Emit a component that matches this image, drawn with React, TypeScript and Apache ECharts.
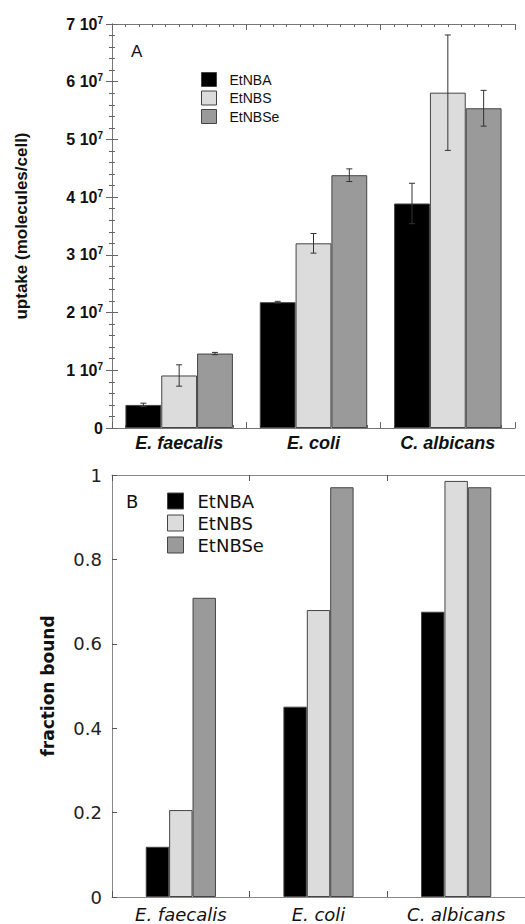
import React, { useEffect, useRef } from "react";
import * as echarts from "echarts";

const categories = ["E. faecalis", "E. coli", "C. albicans"];
const seriesNames = ["EtNBA", "EtNBS", "EtNBSe"];
const colors = ["#000000", "#dcdcdc", "#9a9a9a"];

// Panel A: uptake (molecules/cell)
const uptakeEtNBA = [4.0e6, 21.8e6, 38.9e6];
const uptakeEtNBS = [9.1e6, 32.0e6, 58.1e6];
const uptakeEtNBSe = [12.9e6, 43.8e6, 55.4e6];
const errEtNBA = [0.3e6, 0.15e6, 3.5e6];
const errEtNBS = [1.85e6, 1.7e6, 10.0e6];
const errEtNBSe = [0.2e6, 1.1e6, 3.1e6];

// Panel B: fraction bound
const boundEtNBA = [0.119, 0.451, 0.676];
const boundEtNBS = [0.206, 0.68, 0.986];
const boundEtNBSe = [0.709, 0.971, 0.971];

const uptakeTicks = [0, 1e7, 2e7, 3e7, 4e7, 5e7, 6e7, 7e7];

const FA = "'Liberation Sans', Arial, Helvetica, sans-serif";
const FB = "'DejaVu Sans', Verdana, sans-serif";

export default function App() {
  const ref = useRef<HTMLDivElement>(null);
  useEffect(() => {
    document.body.style.margin = "0";
    if (!ref.current) return;
    const chart = echarts.init(ref.current, undefined, { renderer: "svg" });
    const uptake = [uptakeEtNBA, uptakeEtNBS, uptakeEtNBSe];
    const errs = [errEtNBA, errEtNBS, errEtNBSe];
    const bound = [boundEtNBA, boundEtNBS, boundEtNBSe];

    const errData: any[] = [];
    for (let s = 0; s < 3; s++) {
      for (let c = 0; c < 3; c++) {
        errData.push([c, uptake[s][c], errs[s][c], s]);
      }
    }

    const lineA = { show: true, lineStyle: { color: "#777", width: 1 } };
    const lineB = { show: true, lineStyle: { color: "#888", width: 1 } };

    const option: any = {
      animation: false,
      grid: [
        { left: 112, top: 24, width: 403, height: 404 },
        { left: 112, top: 475, width: 420, height: 422 },
      ],
      legend: [
        {
          data: seriesNames,
          orient: "vertical",
          left: 196,
          top: 67,
          itemWidth: 15,
          itemHeight: 14,
          itemGap: 3.5,
          icon: "rect",
          itemStyle: { borderColor: "#444", borderWidth: 1 },
          textStyle: { fontFamily: FA, fontSize: 14, color: "#111", padding: [0, 0, 0, 8] },
          selectedMode: false,
        },
        {
          data: seriesNames,
          orient: "vertical",
          left: 162,
          top: 487,
          itemWidth: 16,
          itemHeight: 16,
          itemGap: 4,
          icon: "rect",
          itemStyle: { borderColor: "#444", borderWidth: 1 },
          textStyle: { fontFamily: FB, fontSize: 18, color: "#111", padding: [0, 0, 0, 9] },
          selectedMode: false,
        },
      ],
      xAxis: [
        {
          type: "category",
          gridIndex: 0,
          data: categories,
          position: "bottom",
          axisLine: lineA,
          axisTick: { show: false },
          axisLabel: {
            fontFamily: FA,
            fontWeight: "bold",
            fontStyle: "italic",
            fontSize: 18,
            color: "#111",
            margin: 6,
          },
        },
        {
          type: "value",
          gridIndex: 0,
          position: "bottom",
          min: 0,
          max: 3,
          interval: 1,
          axisLine: lineA,
          axisLabel: { show: false },
          splitLine: { show: false },
          axisTick: { show: true, inside: true, length: 6, lineStyle: { color: "#666" } },
          minorTick: { show: true, splitNumber: 10, length: 3, lineStyle: { color: "#666" } },
        },
        {
          type: "value",
          gridIndex: 0,
          position: "top",
          min: 0,
          max: 3,
          interval: 1,
          axisLine: lineA,
          axisLabel: { show: false },
          splitLine: { show: false },
          axisTick: { show: true, inside: true, length: 6, lineStyle: { color: "#666" } },
          minorTick: { show: true, splitNumber: 10, length: 3, lineStyle: { color: "#666" } },
        },
        {
          type: "category",
          gridIndex: 1,
          data: categories,
          position: "bottom",
          axisLine: lineB,
          axisTick: { show: true, inside: true, length: 6, lineStyle: { color: "#555" } },
          axisLabel: {
            fontFamily: FB,
            fontStyle: "italic",
            fontSize: 18,
            color: "#111",
            margin: 8,
          },
        },
        {
          type: "category",
          gridIndex: 1,
          data: categories,
          position: "top",
          axisLine: lineB,
          axisTick: { show: true, inside: true, length: 6, lineStyle: { color: "#555" } },
          axisLabel: { show: false },
        },
      ],
      yAxis: [
        {
          type: "value",
          gridIndex: 0,
          min: 0,
          max: 7e7,
          interval: 1e7,
          name: "uptake (molecules/cell)",
          nameLocation: "middle",
          nameGap: 82,
          nameTextStyle: { fontFamily: FA, fontWeight: "bold", fontSize: 17, color: "#111" },
          axisLine: lineA,
          splitLine: { show: false },
          axisTick: { show: true, inside: true, length: 6, lineStyle: { color: "#666" } },
          minorTick: { show: true, splitNumber: 5, length: 3, lineStyle: { color: "#666" } },
          axisLabel: {
            margin: 9,
            formatter: (v: number) => {
              const idx = uptakeTicks.indexOf(v);
              if (v === 0) return "{a|0}";
              const m = Math.round(v / 1e7);
              return idx >= 0 ? `{a|${m} 10}{b|7}` : "";
            },
            rich: {
              a: { fontFamily: FA, fontWeight: "bold", fontSize: 16, color: "#111", lineHeight: 18 },
              b: {
                fontFamily: FA,
                fontWeight: "bold",
                fontSize: 10,
                color: "#111",
                lineHeight: 18,
                padding: [0, 0, 8, 0],
              },
            },
          },
        },
        {
          type: "value",
          gridIndex: 0,
          position: "right",
          min: 0,
          max: 7e7,
          interval: 1e7,
          axisLine: lineA,
          axisLabel: { show: false },
          splitLine: { show: false },
          axisTick: { show: true, inside: true, length: 6, lineStyle: { color: "#666" } },
          minorTick: { show: true, splitNumber: 5, length: 3, lineStyle: { color: "#666" } },
        },
        {
          type: "value",
          gridIndex: 1,
          min: 0,
          max: 1,
          interval: 0.2,
          name: "fraction bound",
          nameLocation: "middle",
          nameGap: 56,
          nameTextStyle: { fontFamily: FB, fontWeight: "bold", fontSize: 17, color: "#111" },
          axisLine: lineB,
          splitLine: { show: false },
          axisTick: { show: true, inside: true, length: 5, lineStyle: { color: "#555" } },
          axisLabel: { fontFamily: FB, fontSize: 18, color: "#222", margin: 10 },
        },
      ],
      graphic: [
        {
          type: "text",
          left: 131,
          top: 43,
          style: { text: "A", font: `17px ${FA}`, fill: "#111" },
        },
        {
          type: "text",
          left: 126,
          top: 492,
          style: { text: "B", font: `18px ${FB}`, fill: "#111" },
        },
      ],
      series: [
        ...seriesNames.map((name, i) => ({
          type: "bar",
          name,
          xAxisIndex: 0,
          yAxisIndex: 0,
          data: uptake[i],
          barGap: "0%",
          barCategoryGap: "20%",
          itemStyle: { color: colors[i], borderColor: "#444", borderWidth: 1 },
        })),
        {
          type: "custom",
          name: "errors",
          xAxisIndex: 0,
          yAxisIndex: 0,
          z: 10,
          data: errData,
          encode: { x: 0, y: 1 },
          renderItem: (params: any, api: any) => {
            const c = api.value(0);
            const v = api.value(1);
            const e = api.value(2);
            const s = api.value(3);
            const p = api.coord([c, v]);
            const band = api.size([1, 0])[0];
            const bw = (band * 0.8) / 3;
            const cx = p[0] + (s - 1) * bw;
            const yT = api.coord([c, v + e])[1];
            const yB = api.coord([c, v - e])[1];
            const st = { stroke: "#333", lineWidth: 1 };
            const hw = 3;
            return {
              type: "group",
              children: [
                { type: "line", shape: { x1: cx, y1: yT, x2: cx, y2: yB }, style: st },
                { type: "line", shape: { x1: cx - hw, y1: yT, x2: cx + hw, y2: yT }, style: st },
                { type: "line", shape: { x1: cx - hw, y1: yB, x2: cx + hw, y2: yB }, style: st },
              ],
            };
          },
        },
        ...seriesNames.map((name, i) => ({
          type: "bar",
          name,
          xAxisIndex: 3,
          yAxisIndex: 2,
          data: bound[i],
          barGap: "0%",
          barCategoryGap: "49%",
          itemStyle: { color: colors[i], borderColor: "#444", borderWidth: 1 },
        })),
      ],
    };
    chart.setOption(option);
    return () => chart.dispose();
  }, []);
  return <div ref={ref} style={{ width: 525, height: 924 }} />;
}
